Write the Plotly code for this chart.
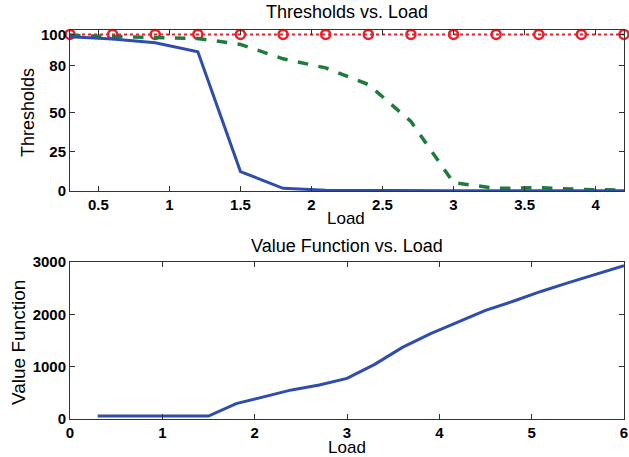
import plotly.graph_objects as go

# ---- data ----
load_top = [0.3, 0.6, 0.9, 1.2, 1.5, 1.8, 2.1, 2.4, 2.7, 3.0, 3.3, 3.6, 3.9, 4.2]
thr_red = [100, 100, 100, 100, 100, 100, 100, 100, 100, 100, 100, 100, 100, 100]
thr_blue = [98.5, 97, 94.6, 88.9, 12.4, 1.7, 0.5, 0.3, 0.2, 0.2, 0.2, 0.2, 0.2, 0.2]
thr_green = [99.3, 98.5, 98, 97.4, 93.6, 84.4, 78.6, 68, 44.4, 5.3, 1.7, 2.1, 1.0, 0.5]

load_bot = [0.3, 0.6, 0.9, 1.2, 1.5, 1.8, 2.1, 2.4, 2.7, 3.0, 3.3, 3.6, 3.9, 4.2,
            4.5, 4.8, 5.1, 5.4, 5.7, 6.0]
value_fn = [56, 56, 56, 56, 56, 294, 431, 556, 650, 775, 1044, 1369, 1625, 1856,
            2075, 2250, 2437, 2606, 2762, 2931]

top_xticks = [0.5, 1, 1.5, 2, 2.5, 3, 3.5, 4]
top_yticks = [0, 25, 50, 80, 100]
bot_xticks = [0, 1, 2, 3, 4, 5, 6]
bot_yticks = [0, 1000, 2000, 3000]

W, H = 629, 457
BLUE = "#2F4DAA"
GREEN = "#1F7B3C"
RED = "#E8212B"
FONT = "Liberation Sans, Arial, sans-serif"

fig = go.Figure()
fig.add_trace(go.Scatter(x=load_top, y=thr_red, mode="lines+markers",
                         line=dict(color=RED, width=2, dash="dot"),
                         marker=dict(symbol="circle-open", size=9, color=RED, line=dict(width=2.5)),
                         xaxis="x", yaxis="y", showlegend=False, cliponaxis=False))
fig.add_trace(go.Scatter(x=load_top, y=thr_green, mode="lines",
                         line=dict(color=GREEN, width=3.5, dash="dash"),
                         xaxis="x", yaxis="y", showlegend=False))
fig.add_trace(go.Scatter(x=load_top, y=thr_blue, mode="lines",
                         line=dict(color=BLUE, width=3),
                         xaxis="x", yaxis="y", showlegend=False))
fig.add_trace(go.Scatter(x=load_bot, y=value_fn, mode="lines",
                         line=dict(color=BLUE, width=3),
                         xaxis="x2", yaxis="y2", showlegend=False))

tickfont = dict(family=FONT, size=15, color="black")
axcommon = dict(showline=True, linecolor="#333", linewidth=1, mirror="ticks",
                ticks="inside", ticklen=5, tickcolor="#333", showgrid=False,
                zeroline=False, tickfont=tickfont, automargin=False)

x0, x1 = 70 / W, 624 / W
fig.update_layout(
    width=W, height=H, margin=dict(l=0, r=0, t=0, b=0, autoexpand=False),
    paper_bgcolor="white", plot_bgcolor="white",
    xaxis=dict(domain=[x0, x1], range=[0.3, 4.2], tickvals=top_xticks,
               ticktext=[f"<b>{v:g}</b>" for v in top_xticks], anchor="y", **axcommon),
    yaxis=dict(domain=[(H - 191) / H, (H - 30) / H], range=[0, 102.8], tickvals=top_yticks,
               ticktext=[f"<b>{v:g}</b>" for v in top_yticks], anchor="x", **axcommon),
    xaxis2=dict(domain=[x0, x1], range=[0, 6], tickvals=bot_xticks,
                ticktext=[f"<b>{v:g}</b>" for v in bot_xticks], anchor="y2",
                title=dict(text="Load", font=dict(family=FONT, size=17, color="black"), standoff=5),
                **axcommon),
    yaxis2=dict(domain=[(H - 419) / H, (H - 262) / H], range=[0, 3000], tickvals=bot_yticks,
                ticktext=[f"<b>{v:g}</b>" for v in bot_yticks], anchor="x2", **axcommon),
)

def ann(text, xpx, ypx, size, angle=0):
    fig.add_annotation(text=text, x=xpx / W, y=1 - ypx / H, xref="paper", yref="paper",
                       showarrow=False, textangle=angle, xanchor="center", yanchor="middle",
                       font=dict(family=FONT, size=size, color="black"))

ann("Thresholds vs. Load", 347, 12, 18)
ann("Load", 346, 218, 17)
ann("Thresholds", 28, 112, 18, -90)
ann("Value Function vs. Load", 347, 246, 18)
ann("Value Function", 18, 343, 19, -90)

fig.write_html("out.html")
